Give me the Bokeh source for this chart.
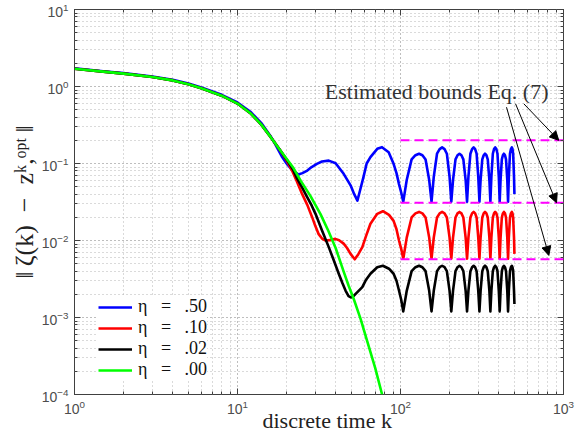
from bokeh.plotting import figure
from bokeh.models import LogAxis, Arrow, NormalHead, Label, LogTicker
from bokeh.embed import file_html
from bokeh.resources import INLINE

# ---------------- data ----------------
k_blue_head = [1, 1.5, 2, 3, 4, 5, 6, 8, 10, 12, 14, 16, 17, 18.8, 20, 21.5, 23.7, 25, 26.8,
               28.5, 30.7, 33, 36.3, 40, 44.8, 49.4, 52, 54.4, 56.5, 59.2, 62, 65.4, 72, 77,
               84.6, 90.7, 94.5, 97.9, 101, 104]
y_blue_head = [1.72, 1.58, 1.49, 1.35, 1.22, 1.09, 0.97, 0.78, 0.62, 0.47, 0.335, 0.225, 0.18,
               0.121, 0.10, 0.083, 0.072, 0.075, 0.081, 0.09, 0.099, 0.106, 0.109, 0.101, 0.0734,
               0.052, 0.040, 0.033, 0.045, 0.066, 0.10, 0.121, 0.155, 0.163, 0.14, 0.099, 0.075,
               0.054, 0.042, 0.032]

k_red_head = [1, 1.5, 2, 3, 4, 5, 6, 8, 10, 12, 14, 16, 18.4, 20, 21.6, 23, 24.9, 26.8, 28.7,
              30, 31.4, 33, 34.7, 37, 39.8, 42, 44.8, 47, 49.4, 52.4, 55, 58.3, 61.5, 65.4, 72,
              78, 85, 90.7, 94.5, 97.9, 101, 104]
y_red_head = [1.70, 1.56, 1.47, 1.33, 1.20, 1.07, 0.95, 0.76, 0.60, 0.45, 0.32, 0.22, 0.145,
              0.11, 0.081, 0.06, 0.0403, 0.029, 0.0201, 0.0155, 0.0122, 0.0106, 0.0100, 0.0101,
              0.0105, 0.0101, 0.0091, 0.0080, 0.0067, 0.0057, 0.0066, 0.0082, 0.0115, 0.0165,
              0.0222, 0.024, 0.0215, 0.018, 0.014, 0.010, 0.0078, 0.0058]

k_black_head = [1, 1.5, 2, 3, 4, 5, 6, 8, 10, 12, 14, 16, 18, 20, 22, 23.2, 24.9, 26.5, 28.5,
                30.1, 33, 36.3, 39, 41.8, 44, 46, 48, 49.7, 51.5, 54, 58.3, 61.5, 65.4, 72, 78,
                85, 90.7, 94.5, 97.9, 101, 104]
y_black_head = [1.70, 1.56, 1.47, 1.33, 1.20, 1.07, 0.95, 0.76, 0.60, 0.45, 0.32, 0.22, 0.155,
                0.113, 0.082, 0.064, 0.049, 0.038, 0.0285, 0.0222, 0.0135, 0.0082, 0.0055,
                0.0037, 0.0028, 0.00224, 0.0019, 0.00182, 0.0019, 0.0021, 0.00248, 0.0031,
                0.0037, 0.0045, 0.0047, 0.0043, 0.0037, 0.003, 0.00224, 0.0017, 0.0012]

k_tail = [109.2, 117, 123.5, 130, 136.3, 142.5, 150, 155,
          160, 167.5, 173.8, 180, 186.3, 192.5, 200, 205,
          210, 217.5, 223.8, 230, 236.5, 243, 251, 256,
          261, 268.5, 274.8, 281, 287, 293, 300, 305,
          310, 317.5, 323.8, 330, 336.5, 343, 351, 356,
          361, 368.5, 374.8, 381, 387.3, 393.5, 401, 406,
          411, 418.5, 424.8, 431, 437.5, 444, 452, 457,
          462, 469.5, 475.8, 482, 486.5, 491, 497, 500]
y_blue_tail = [0.061, 0.113, 0.128, 0.134, 0.128, 0.113, 0.061, 0.032,
               0.067, 0.134, 0.154, 0.162, 0.154, 0.134, 0.067, 0.032,
               0.061, 0.113, 0.128, 0.134, 0.128, 0.113, 0.061, 0.032,
               0.067, 0.134, 0.154, 0.162, 0.154, 0.134, 0.067, 0.032,
               0.061, 0.113, 0.128, 0.134, 0.128, 0.113, 0.061, 0.032,
               0.067, 0.134, 0.154, 0.162, 0.154, 0.134, 0.067, 0.032,
               0.061, 0.113, 0.128, 0.134, 0.128, 0.113, 0.061, 0.032,
               0.067, 0.134, 0.154, 0.162, 0.154, 0.134, 0.067, 0.040]
y_red_tail = [0.0109, 0.0199, 0.0225, 0.0235, 0.0225, 0.0199, 0.0109, 0.0058,
              0.0109, 0.0199, 0.0225, 0.0235, 0.0225, 0.0199, 0.0109, 0.0058,
              0.0109, 0.0199, 0.0225, 0.0235, 0.0225, 0.0199, 0.0109, 0.0058,
              0.0109, 0.0199, 0.0225, 0.0235, 0.0225, 0.0199, 0.0109, 0.0058,
              0.0109, 0.0199, 0.0225, 0.0235, 0.0225, 0.0199, 0.0109, 0.0058,
              0.0109, 0.0199, 0.0225, 0.0235, 0.0225, 0.0199, 0.0109, 0.0058,
              0.0109, 0.0199, 0.0225, 0.0235, 0.0225, 0.0199, 0.0109, 0.0058,
              0.0109, 0.0199, 0.0225, 0.0235, 0.0225, 0.0199, 0.0109, 0.0067]
y_black_tail = [0.00222, 0.0040, 0.0045, 0.0047, 0.0045, 0.0040, 0.00222, 0.0012,
                0.00222, 0.0040, 0.0045, 0.0047, 0.0045, 0.0040, 0.00222, 0.0012,
                0.00222, 0.0040, 0.0045, 0.0047, 0.0045, 0.0040, 0.00222, 0.0012,
                0.00222, 0.0040, 0.0045, 0.0047, 0.0045, 0.0040, 0.00222, 0.0012,
                0.00222, 0.0040, 0.0045, 0.0047, 0.0045, 0.0040, 0.00222, 0.0012,
                0.00222, 0.0040, 0.0045, 0.0047, 0.0045, 0.0040, 0.00222, 0.0012,
                0.00222, 0.0040, 0.0045, 0.0047, 0.0045, 0.0040, 0.00222, 0.0012,
                0.00222, 0.0040, 0.0045, 0.0047, 0.0045, 0.0040, 0.00222, 0.0015]

k_green = [1, 1.5, 2, 3, 4, 5, 6, 8, 10, 12, 14, 16, 18, 20, 22, 24.4, 28, 32.3, 36, 40, 44.7,
           48, 51.6, 56.9, 62, 70, 77.1]
y_green = [1.70, 1.56, 1.47, 1.33, 1.20, 1.07, 0.95, 0.76, 0.60, 0.45, 0.32, 0.22, 0.155, 0.115,
           0.088, 0.060, 0.038, 0.022, 0.0135, 0.0080, 0.0040, 0.0026, 0.00175, 0.00096, 0.00052,
           0.00022, 0.0001]

labels = ["η\u2002\u00a0=\u2002\u00a0.50", "η\u2002\u00a0=\u2002\u00a0.10",
          "η\u2002\u00a0=\u2002\u00a0.02", "η\u2002\u00a0=\u2002\u00a0.00"]
colors = ["#0000ff", "#ff0000", "#000000", "#00ff00"]

bound_k = [100, 1000]
bound_values = [0.2, 0.031, 0.0057]

annot_text = "Estimated bounds Eq. (7)"
annot_k, annot_y = 809, 0.87
arrow_k0 = [571, 508, 447]
arrow_y0 = [0.596, 0.596, 0.538]
arrow_k1 = [935, 906, 813]
arrow_y1 = [0.2, 0.031, 0.0064]

x_label = "\u00a0\u00a0\u00a0discrete time k"
y_label = "‖\u2009ζ(k)\u2002−\u2002zᵏ,ᵒᵖᵗ\u2009‖"

# ---------------- figure ----------------
p = figure(width=585, height=441, x_axis_type="log", y_axis_type="log",
           x_range=(1, 1000), y_range=(1e-4, 10),
           output_backend="svg", toolbar_location=None,
           min_border_left=74, min_border_right=22, min_border_top=9, min_border_bottom=47)
p.background_fill_color = "white"
p.border_fill_color = "white"
p.outline_line_color = "#404040"
p.outline_line_width = 1

for g in (p.xgrid, p.ygrid):
    g.grid_line_color = "#b4b4b4"
    g.grid_line_dash = "1 3"
    g.grid_line_width = 1
    g.minor_grid_line_color = "#b4b4b4"
    g.minor_grid_line_dash = "1 3"
    g.minor_grid_line_width = 1

def style_axis(ax):
    ax.axis_line_color = None
    ax.major_tick_in = 6
    ax.major_tick_out = 0
    ax.minor_tick_in = 3
    ax.minor_tick_out = 0
    ax.major_tick_line_color = "#404040"
    ax.minor_tick_line_color = "#404040"
    ax.major_label_text_font = "Liberation Sans"
    ax.major_label_text_font_size = "14px"
    ax.major_label_text_color = "#4d4d4d"
    ax.ticker.num_minor_ticks = 10

bottom_ax = p.below[0]
left_ax = p.left[0]
for ax in (bottom_ax, left_ax):
    style_axis(ax)
bottom_ax.major_label_standoff = 5
left_ax.major_label_standoff = 6

top_ax = LogAxis(ticker=LogTicker(num_minor_ticks=10))
right_ax = LogAxis(ticker=LogTicker(num_minor_ticks=10))
for ax in (top_ax, right_ax):
    style_axis(ax)
    ax.major_label_text_font_size = "1px"
    ax.major_label_text_alpha = 0
    ax.major_label_standoff = 0
p.add_layout(top_ax, "above")
p.add_layout(right_ax, "right")

bottom_ax.axis_label = x_label
bottom_ax.axis_label_text_font = "Liberation Serif"
bottom_ax.axis_label_text_font_size = "22px"
bottom_ax.axis_label_text_font_style = "normal"
bottom_ax.axis_label_text_color = "#222222"
bottom_ax.axis_label_standoff = -9

left_ax.axis_label = y_label
left_ax.axis_label_text_font = "Liberation Serif"
left_ax.axis_label_text_font_size = "26px"
left_ax.axis_label_text_font_style = "normal"
left_ax.axis_label_text_color = "#222222"
left_ax.axis_label_standoff = 0

# ---------------- curves ----------------
series = [
    (k_blue_head + k_tail, y_blue_head + y_blue_tail),
    (k_red_head + k_tail, y_red_head + y_red_tail),
    (k_black_head + k_tail, y_black_head + y_black_tail),
    (k_green, y_green),
]
for (xs, ys), lab, col in zip(series, labels, colors):
    p.line(xs, ys, line_color=col, line_width=2.6, line_join="round", legend_label=lab)

for b in bound_values:
    p.line(bound_k, [b, b], line_color="#ff00ff", line_width=2, line_dash="9 5")

for x0, y0, x1, y1 in zip(arrow_k0, arrow_y0, arrow_k1, arrow_y1):
    p.add_layout(Arrow(end=NormalHead(size=9, fill_color="black", line_color="black"),
                       x_start=x0, y_start=y0, x_end=x1, y_end=y1,
                       line_color="black", line_width=1))

p.add_layout(Label(x=annot_k, y=annot_y, text=annot_text, text_align="right",
                   text_baseline="alphabetic", text_font="Liberation Serif",
                   text_font_size="22px", text_color="#333333"))

lg = p.legend[0]
lg.location = (24, 14)
lg.background_fill_color = "white"
lg.background_fill_alpha = 1.0
lg.border_line_color = None
lg.label_text_font = "Liberation Serif"
lg.label_text_font_size = "18px"
lg.label_text_color = "#111111"
lg.glyph_width = 34
lg.glyph_height = 18
lg.label_height = 18
lg.label_standoff = 6
lg.padding = 4
lg.spacing = 0
lg.margin = 0

open("out.html", "w").write(file_html(p, INLINE))
